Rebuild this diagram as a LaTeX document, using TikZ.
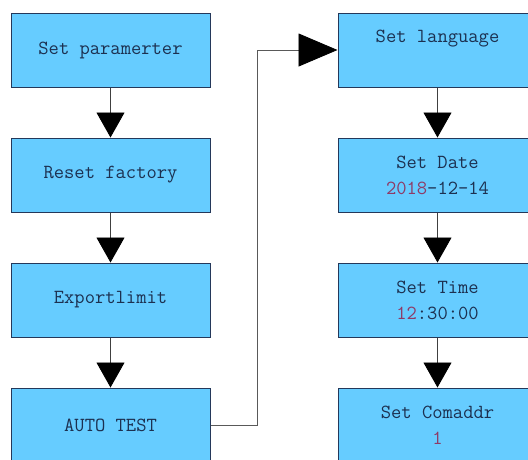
\documentclass[tikz,border=0pt]{standalone}
\usetikzlibrary{arrows.meta, positioning}

\definecolor{boxfill}{HTML}{66CCFF}
\definecolor{boxline}{HTML}{24385A}
\definecolor{boxtext}{HTML}{1C3050}
\definecolor{numred}{HTML}{8E3A66}
\newcommand{\hl}[1]{\textcolor{numred}{#1}}

\begin{document}
\begin{tikzpicture}[
    x=1pt, y=1pt,
    menu/.style={rectangle, draw=boxline, fill=boxfill, line width=1pt, minimum width=199pt, minimum height=74pt, align=center, text=boxtext, font=\fontsize{20}{26}\selectfont\ttfamily},
    flow/.style={draw=black!75, line width=0.9pt, -{Triangle[width=28pt,length=25pt,color=black]}},
    jump/.style={draw=black!65, line width=0.8pt, -{Triangle[width=33pt,length=39pt,color=black]}}
]
    \useasboundingbox (0,0) rectangle (528,-459);
    \clip (0,0) rectangle (528,-459);

    % left column
    \node[menu] (setpar) at (110.5,-50) {Set paramerter};
    \node[menu, below=50pt of setpar] (reset) {Reset factory};
    \node[menu, below=50pt of reset] (export) {Exportlimit};
    \node[menu, below=50pt of export] (autotest) {AUTO TEST};

    % right column
    \node[menu, right=127pt of setpar] (setlang) {Set language\\[-6pt]\strut};
    \node[menu, below=50pt of setlang] (setdate) {Set Date\\\hl{2018}-12-14};
    \node[menu, below=50pt of setdate] (settime) {Set Time\\\hl{12}:30:00};
    \node[menu, below=50pt of settime] (setaddr) {Set Comaddr\\\hl{1}};

    \draw[flow] (setpar) -- (reset);
    \draw[flow] (reset) -- (export);
    \draw[flow] (export) -- (autotest);
    \draw[flow] (setlang) -- (setdate);
    \draw[flow] (setdate) -- (settime);
    \draw[flow] (settime) -- (setaddr);

    \draw[jump] (autotest.east) -- ++(47pt,0) |- (setlang.west);
\end{tikzpicture}
\end{document}
